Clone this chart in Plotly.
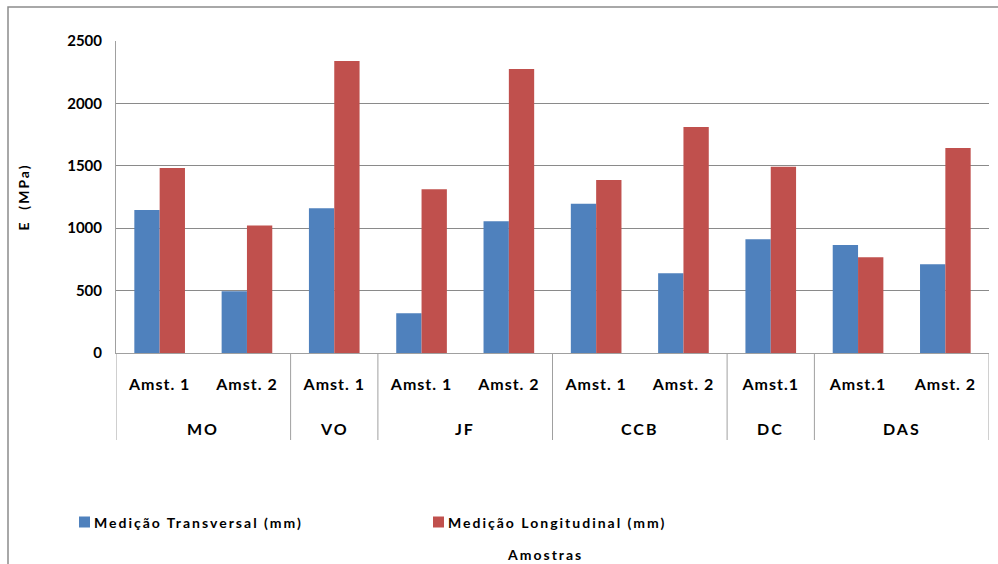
import plotly.graph_objects as go

# Sample groups and sample labels
groups = ["MO", "MO", "VO", "JF", "JF", "CCB", "CCB", "DC", "DAS", "DAS"]
samples = ["Amst. 1", "Amst. 2", "Amst. 1", "Amst. 1", "Amst. 2",
           "Amst. 1", "Amst. 2", "Amst.1", "Amst.1", "Amst. 2"]

# Modulus E (MPa) per sample
transversal = [1145, 495, 1160, 318, 1055, 1195, 640, 912, 865, 712]
longitudinal = [1482, 1022, 2340, 1312, 2275, 1387, 1810, 1492, 768, 1642]

series_names = ["Medição Transversal (mm)", "Medição Longitudinal (mm)"]
y_ticks = [0, 500, 1000, 1500, 2000, 2500]

BLUE = "#4F81BD"
RED = "#C0504D"
FONT = "Lato"
AXIS_GREY = "#a0a0a0"

def spaced(text, px):
    return f"<span style='letter-spacing:{px}px'>{text}</span>"

# one category slot per sample (group + label keeps keys unique)
keys = [f"{g}|{s}" for g, s in zip(groups, samples)]

fig = go.Figure()
for name, vals, col in zip(series_names, [transversal, longitudinal], [BLUE, RED]):
    fig.add_trace(go.Bar(x=keys, y=vals, name=name,
                         marker_color=col, marker_line_width=0))

L, R, T, B = 116, 9, 41, 211
W, H = 998, 564
pw, ph = W - L - R, H - T - B

def px_x(p):
    return (p - L) / pw

def px_y(p):
    return (H - B - p) / ph

# group spans along the category axis
spans = []
for i, g in enumerate(groups):
    if spans and spans[-1][0] == g:
        spans[-1][2] = i
    else:
        spans.append([g, i, i])

shapes = [
    # outer chart frame (left and top edges fall inside the page)
    dict(type="rect", xref="paper", yref="paper",
         x0=px_x(8), x1=px_x(1010), y0=px_y(580), y1=px_y(7),
         line=dict(color="#8c8c8c", width=1.5), layer="below"),
]
annotations = []

# group dividers below the axis
boundaries = [spans[0][1] - 0.5] + [s[2] + 0.5 for s in spans]
for b in boundaries:
    shapes.append(dict(type="line", xref="x", yref="paper",
                       x0=b, x1=b, y0=px_y(440), y1=0,
                       line=dict(color=AXIS_GREY, width=1)))
for g, i0, i1 in spans:
    annotations.append(dict(xref="x", yref="paper", x=(i0 + i1) / 2,
                            y=px_y(428), yanchor="middle", showarrow=False,
                            text=spaced(g, 2),
                            font=dict(family=FONT, size=16, color="#000000",
                                      weight="bold")))

# legend row: swatch + label for each series
legend_left = [79, 433]
for name, col, x0 in zip(series_names, [BLUE, RED], legend_left):
    shapes.append(dict(type="rect", xref="paper", yref="paper",
                       x0=px_x(x0), x1=px_x(x0 + 11),
                       y0=px_y(527.5), y1=px_y(516.5),
                       fillcolor=col, line=dict(width=0)))
    annotations.append(dict(xref="paper", yref="paper", x=px_x(x0 + 13),
                            y=px_y(522), xanchor="left", yanchor="middle",
                            showarrow=False, text=spaced(name, 2),
                            font=dict(family=FONT, size=14, color="#000000",
                                      weight="bold")))

# x-axis title
annotations.append(dict(xref="paper", yref="paper", x=px_x(545), y=px_y(554),
                        xanchor="center", yanchor="middle", showarrow=False,
                        text=spaced("Amostras", 2),
                        font=dict(family=FONT, size=14, color="#000000",
                                  weight="bold")))

fig.update_layout(
    width=W, height=H,
    margin=dict(l=L, r=R, t=T, b=B, autoexpand=False),
    paper_bgcolor="white", plot_bgcolor="white",
    barmode="group", bargap=0.42, bargroupgap=0,
    font=dict(family=FONT, color="#000000"),
    showlegend=False,
    shapes=shapes,
    annotations=annotations,
)

fig.update_xaxes(
    type="category", automargin=False,
    range=[-0.5, len(keys) - 0.5],
    tickvals=keys, ticktext=[spaced(s, 1) for s in samples],
    showline=True, linecolor=AXIS_GREY, linewidth=1,
    ticks="", ticklabelstandoff=17,
    tickfont=dict(family=FONT, size=16, color="#000000", weight="bold"),
    showgrid=False, zeroline=False,
)
fig.update_yaxes(
    automargin=False,
    range=[0, 2500], tickvals=y_ticks,
    showgrid=True, gridcolor="#8a8a8a", gridwidth=1,
    showline=True, linecolor=AXIS_GREY, linewidth=1,
    zeroline=False, ticks="", ticklabelstandoff=10,
    tickfont=dict(family=FONT, size=15, color="#000000", weight="bold"),
    title=dict(text=spaced("E  (MPa)", 2), standoff=34,
               font=dict(family=FONT, size=14, color="#000000", weight="bold")),
)

fig.write_html("out.html")
